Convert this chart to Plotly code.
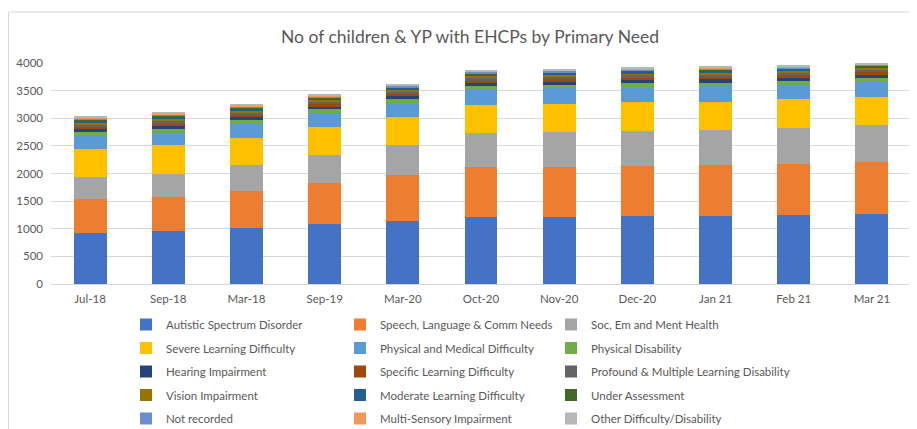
import plotly.graph_objects as go

months = ["Jul-18", "Sep-18", "Mar-18", "Sep-19", "Mar-20", "Oct-20",
          "Nov-20", "Dec-20", "Jan 21", "Feb 21", "Mar 21"]

asd = [930, 955, 1005, 1080, 1135, 1220, 1220, 1230, 1232, 1245, 1270]
slcn = [617, 628, 685, 750, 837, 890, 901, 904, 915, 925, 935]
semh = [393, 407, 458, 504, 538, 620, 639, 644, 649, 662, 665]
sld = [512, 522, 502, 502, 506, 508, 502, 508, 502, 508, 512]
pmd = [228, 222, 246, 252, 264, 270, 282, 276, 288, 264, 282]
pd_ = [72, 72, 72, 72, 66, 72, 66, 72, 60, 72, 66]
hi = [48, 52, 50, 48, 50, 52, 52, 54, 56, 56, 58]
spld = [42, 46, 44, 44, 46, 48, 46, 48, 48, 46, 44]
pmld = [50, 54, 50, 48, 46, 50, 48, 48, 50, 46, 46]
vi = [26, 28, 26, 26, 26, 28, 26, 26, 28, 26, 26]
mld = [40, 44, 40, 40, 38, 42, 40, 40, 40, 40, 38]
ua = [14, 15, 12, 12, 12, 13, 12, 12, 12, 12, 10]
nr = [26, 28, 26, 24, 24, 26, 24, 24, 24, 22, 20]
msi = [12, 13, 12, 12, 12, 12, 12, 12, 12, 12, 8]
other = [24, 26, 22, 22, 22, 23, 22, 24, 24, 22, 15]

names = ["Autistic Spectrum Disorder", "Speech, Language & Comm Needs", "Soc, Em and Ment Health",
         "Severe Learning Difficulty", "Physical and Medical Difficulty", "Physical Disability",
         "Hearing Impairment", "Specific Learning Difficulty", "Profound & Multiple Learning Disability",
         "Vision Impairment", "Moderate Learning Difficulty", "Under Assessment",
         "Not recorded", "Multi-Sensory Impairment", "Other Difficulty/Disability"]
series = [asd, slcn, semh, sld, pmd, pd_, hi, spld, pmld, vi, mld, ua, nr, msi, other]
colors = ["#4472C4", "#ED7D31", "#A5A5A5", "#FFC000", "#5B9BD5", "#70AD47",
          "#264478", "#9E480E", "#636363", "#997300", "#255E91", "#43682B",
          "#698ED0", "#F1975A", "#B7B7B7"]
yticks = [0, 500, 1000, 1500, 2000, 2500, 3000, 3500, 4000]

fig = go.Figure()
legends = ["legend", "legend2", "legend3"]
for i, (n, s, c) in enumerate(zip(names, series, colors)):
    fig.add_trace(go.Bar(
        x=months, y=s, name=n, marker=dict(color=c, line=dict(width=0)),
        legend=legends[i % 3], legendgroup=n,
    ))

font = "Lato, 'Open Sans', sans-serif"
W, H = 909.0, 421.0
leg_common = dict(orientation="v", traceorder="grouped", tracegroupgap=4.5,
                  font=dict(family=font, size=11.5, color="#595959"),
                  bgcolor="rgba(0,0,0,0)", yanchor="top", xanchor="left",
                  xref="container", yref="container", itemwidth=30)
ly = 1 - 302 / H

fig.update_layout(
    width=909, height=421,
    margin=dict(l=43, r=6, t=55, b=145, autoexpand=False),
    barmode="stack", bargap=0.58,
    paper_bgcolor="white", plot_bgcolor="white",
    title=dict(text="No of children & YP with EHCPs by Primary Need",
               xref="container", yref="container",
               x=462 / W, xanchor="center", y=1 - 29 / H, yanchor="middle",
               font=dict(family=font, size=17.5, color="#595959")),
    xaxis=dict(showgrid=False, showline=True, linecolor="#d9d9d9", linewidth=1,
               ticks="", ticklabelstandoff=4,
               tickfont=dict(family=font, size=11.5, color="#595959")),
    yaxis=dict(range=[0, 4000], tickvals=yticks, showgrid=True, gridcolor="#d9d9d9",
               gridwidth=1, zeroline=False, showline=False, ticks="",
               ticklabelstandoff=7,
               tickfont=dict(family=font, size=11.5, color="#595959")),
    legend=dict(x=118 / W, y=ly, **leg_common),
    legend2=dict(x=332 / W, y=ly, **leg_common),
    legend3=dict(x=543 / W, y=ly, **leg_common),
    shapes=[dict(type="rect", xref="paper", yref="paper",
                 x0=(0.5 - 43) / 860.0, x1=1.2, y0=-1.0, y1=(276 - 4) / 221.0,
                 line=dict(color="#d9d9d9", width=1), fillcolor="rgba(0,0,0,0)",
                 layer="below")],
    showlegend=True,
)

fig.write_html("out.html")
